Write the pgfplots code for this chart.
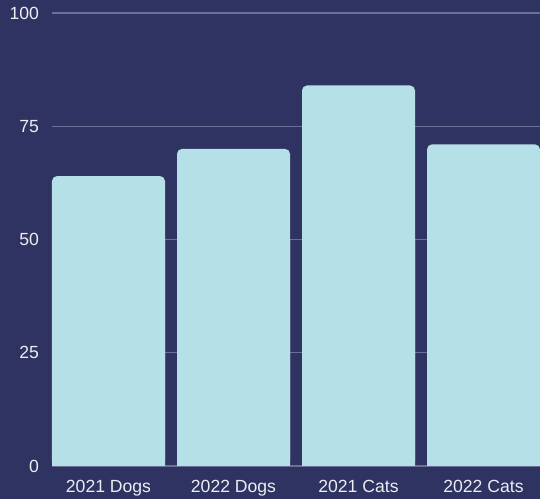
\documentclass[border=0pt]{standalone}
\usepackage{pgfplots}
\pgfplotsset{compat=1.18}
\usepackage{fontspec}
\setmainfont{Liberation Sans}
\definecolor{bg}{RGB}{47,51,97}
\definecolor{barc}{RGB}{181,224,231}
\definecolor{gridc}{RGB}{108,112,150}
\definecolor{txt}{RGB}{236,236,242}
\pgfplotstableread{
x y
0 64
1 70
2 84
3 71
}\datatable
\begin{document}
\begin{tikzpicture}
\fill[bg] (-52bp,-33bp) rectangle (488bp,466bp);
\useasboundingbox (-52bp,-33bp) rectangle (488bp,466bp);
\begin{axis}[
  at={(0,0)}, anchor=south west,
  scale only axis, width=488bp, height=453bp,
  xmin=-0.452, xmax=3.452,
  ymin=0, ymax=100,
  ytick={0,25,50,75,100},
  /pgf/number format/assume math mode=true,
  xtick={0,1,2,3},
  xticklabels={2021 Dogs,2022 Dogs,2021 Cats,2022 Cats},
  axis line style={draw=none},
  major tick length=0pt,
  ymajorgrids,
  major grid style={gridc, line width=1.2bp},
  tick label style={font=\fontsize{17.6bp}{20bp}\selectfont, text=txt},
  yticklabel style={xshift=-9.5bp},
  xticklabel style={yshift=-11bp},
  ybar, bar width=113bp, bar shift=0pt,
]
\addplot[fill=barc, draw=none, rounded corners=5bp] table[x=x,y=y] {\datatable};
\end{axis}
% lower halves with square corners (same data, clipped at 50)
\begin{axis}[
  at={(0,0)}, anchor=south west,
  scale only axis, width=488bp, height=226.5bp,
  xmin=-0.452, xmax=3.452,
  ymin=0, ymax=50,
  hide axis,
  ybar, bar width=113bp, bar shift=0pt,
]
\addplot[fill=barc, draw=none] table[x=x,y=y] {\datatable};
\end{axis}
\end{tikzpicture}
\end{document}
